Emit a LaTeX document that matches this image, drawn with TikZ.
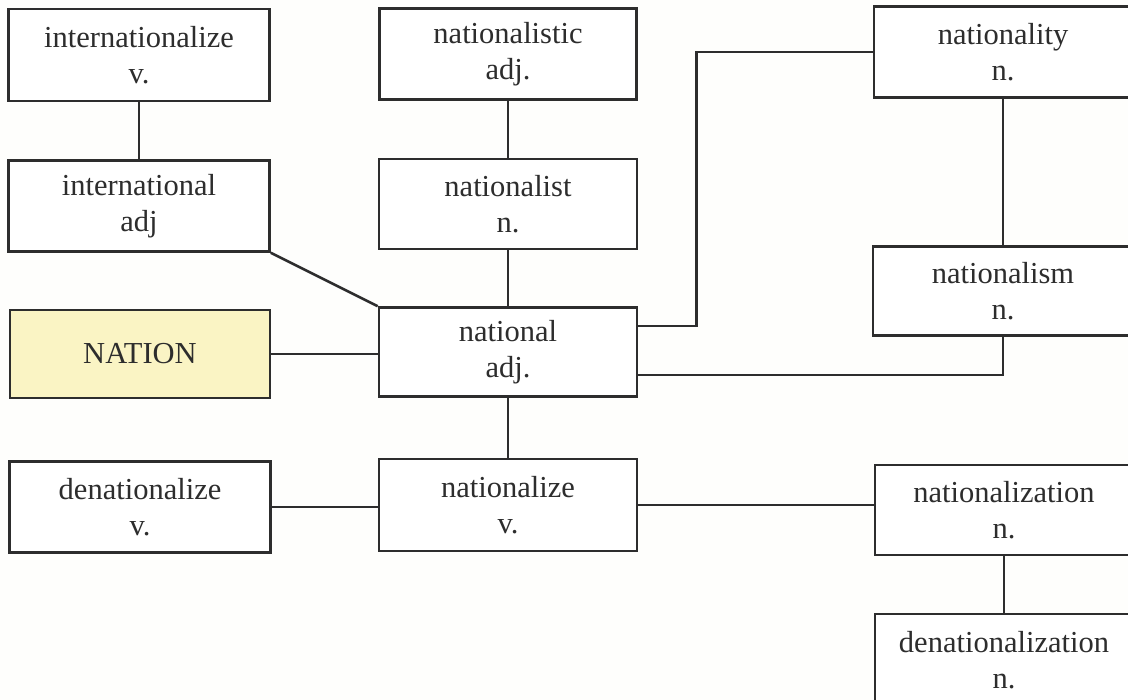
\documentclass[tikz,border=0pt]{standalone}
\usepackage{fontspec}
\setmainfont{Liberation Serif}
\definecolor{inkc}{RGB}{45,45,45}
\definecolor{paper}{RGB}{254,254,252}
\definecolor{hilite}{RGB}{250,244,196}
\tikzset{
  wbox/.style={draw=inkc, line width=2.6pt, fill=white, text=inkc, align=center,
    inner sep=0pt, font=\fontsize{30.5}{36}\selectfont},
  link/.style={draw=inkc, line width=2.6pt}
}
\begin{document}
\begin{tikzpicture}[x=1pt,y=-1pt]
\useasboundingbox (0,0) rectangle (1128,700);
\fill[paper] (0,0) rectangle (1128,700);
% left column
\node[wbox, minimum width=261pt, minimum height=92pt] (intz) at (139,55) {internationalize\\v.};
\node[wbox, minimum width=261pt, minimum height=91pt] (intl) at (139,206) {international\\adj};
\node[wbox, fill=hilite, minimum width=260pt, minimum height=88pt] (nation) at (140,354) {NATION};
\node[wbox, minimum width=261pt, minimum height=91pt] (denz) at (140,507) {denationalize\\v.};
% middle column
\node[wbox, minimum width=257pt, minimum height=91pt] (nstic) at (508,54) {nationalistic\\adj.};
\node[wbox, minimum width=258pt, minimum height=90pt] (nist) at (508,204) {nationalist\\n.};
\node[wbox, minimum width=258pt, minimum height=89pt] (natl) at (508,352) {national\\adj.};
\node[wbox, minimum width=258pt, minimum height=92pt] (nize) at (508,505) {nationalize\\v.};
% right column
\node[wbox, minimum width=258pt, minimum height=91pt] (nity) at (1003,52) {nationality\\n.};
\node[wbox, minimum width=260pt, minimum height=89pt] (nism) at (1003,291) {nationalism\\n.};
\node[wbox, minimum width=258pt, minimum height=90pt] (nztn) at (1004,510) {nationalization\\n.};
\node[wbox, minimum width=258pt, minimum height=92pt] (dnztn) at (1004,660) {denationalization\\n.};
% connectors
\draw[link] (intz.south) -- (intl.north);
\draw[link] (intl.south east) -- (natl.north west);
\draw[link] (nation.east) -- (nation.east -| natl.west);
\draw[link] (nstic.south) -- (nist.north);
\draw[link] (nist.south) -- (natl.north);
\draw[link] (natl.south) -- (nize.north);
\draw[link] ([yshift=26pt]natl.east) -- ++(58,0) |- (nity.west);
\draw[link] ([yshift=-23pt]natl.east) -| (nism.south);
\draw[link] (nity.south) -- (nism.north);
\draw[link] (denz.east) -- (denz.east -| nize.west);
\draw[link] (nize.east) -- (nize.east -| nztn.west);
\draw[link] (nztn.south) -- (dnztn.north);
\end{tikzpicture}
\end{document}
